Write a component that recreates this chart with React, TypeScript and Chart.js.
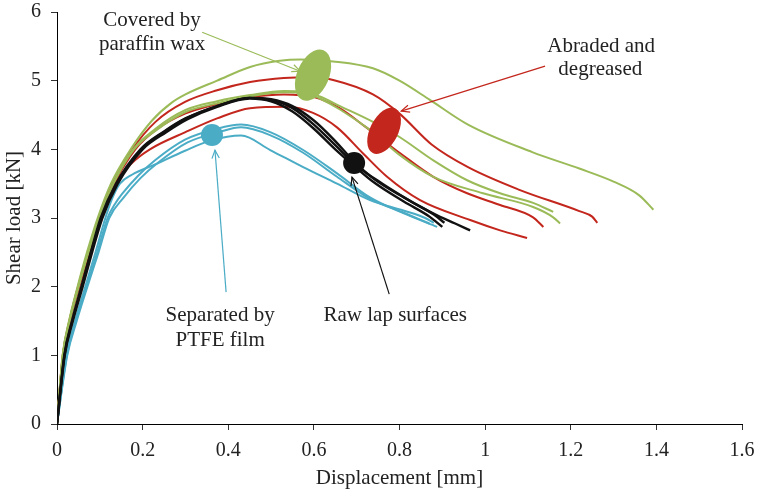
import React, { useEffect, useRef } from "react";
import { Chart, registerables } from "chart.js";

Chart.register(...registerables);

type Pt = [number, number];

// Raw lap surfaces (black)
const raw1: Pt[] = [[0,0],[0.017,1],[0.035,1.5],[0.057,2],[0.079,2.5],[0.102,3],[0.138,3.5],[0.195,4],[0.25,4.26],[0.3,4.45],[0.374,4.63],[0.45,4.75],[0.5,4.73],[0.55,4.63],[0.6,4.42],[0.65,4.12],[0.694,3.82],[0.74,3.57],[0.81,3.3],[0.89,3.03],[0.93,2.92],[0.965,2.82]];
const raw2: Pt[] = [[0,0],[0.018,1],[0.037,1.5],[0.06,2],[0.082,2.5],[0.106,3],[0.142,3.5],[0.2,4],[0.255,4.25],[0.305,4.44],[0.374,4.62],[0.45,4.74],[0.5,4.7],[0.55,4.55],[0.6,4.3],[0.65,4.0],[0.69,3.78],[0.74,3.52],[0.81,3.24],[0.87,3.02],[0.9,2.87]];
const raw3: Pt[] = [[0,0],[0.0175,1],[0.036,1.5],[0.058,2],[0.08,2.5],[0.104,3],[0.14,3.5],[0.197,4],[0.252,4.26],[0.302,4.45],[0.374,4.63],[0.45,4.75],[0.5,4.72],[0.55,4.6],[0.6,4.36],[0.65,4.06],[0.7,3.76],[0.76,3.5],[0.83,3.23],[0.88,3.05],[0.905,2.93]];

// Covered by paraffin wax (green)
const wax1: Pt[] = [[0,0],[0.013,1],[0.028,1.5],[0.048,2],[0.07,2.5],[0.095,3],[0.126,3.5],[0.172,4],[0.222,4.42],[0.268,4.68],[0.3,4.8],[0.374,5.0],[0.451,5.2],[0.52,5.29],[0.568,5.31],[0.645,5.28],[0.738,5.18],[0.8,5.0],[0.871,4.72],[0.96,4.36],[1.11,3.96],[1.22,3.72],[1.3,3.53],[1.36,3.33],[1.393,3.12]];
const wax2: Pt[] = [[0,0],[0.0135,1],[0.029,1.5],[0.05,2],[0.073,2.5],[0.099,3],[0.131,3.5],[0.178,4],[0.23,4.3],[0.299,4.57],[0.374,4.7],[0.451,4.79],[0.53,4.85],[0.58,4.84],[0.614,4.77],[0.661,4.63],[0.738,4.4],[0.8,4.18],[0.879,3.84],[0.958,3.55],[1.035,3.36],[1.112,3.22],[1.159,3.09]];
const wax3: Pt[] = [[0,0],[0.0138,1],[0.0294,1.5],[0.0504,2],[0.0735,2.5],[0.0998,3],[0.132,3.5],[0.18,4],[0.232,4.28],[0.299,4.54],[0.374,4.67],[0.451,4.77],[0.53,4.83],[0.58,4.82],[0.614,4.74],[0.661,4.58],[0.738,4.25],[0.8,3.92],[0.879,3.6],[0.995,3.36],[1.112,3.16],[1.159,3.01],[1.175,2.92]];

// Abraded and degreased (red)
const abr1: Pt[] = [[0,0],[0.0134,1],[0.0288,1.5],[0.049,2],[0.072,2.5],[0.098,3],[0.13,3.5],[0.176,4],[0.23,4.4],[0.299,4.69],[0.374,4.86],[0.451,4.98],[0.53,5.04],[0.6,5.05],[0.645,5.01],[0.738,4.8],[0.8,4.52],[0.875,4.07],[0.96,3.74],[1.08,3.41],[1.22,3.1],[1.25,3.02],[1.262,2.93]];
const abr2: Pt[] = [[0,0],[0.014,1],[0.0297,1.5],[0.051,2],[0.074,2.5],[0.101,3],[0.134,3.5],[0.183,4],[0.235,4.3],[0.299,4.52],[0.374,4.66],[0.451,4.76],[0.53,4.8],[0.6,4.76],[0.66,4.6],[0.72,4.33],[0.8,3.95],[0.879,3.6],[0.958,3.36],[1.035,3.19],[1.112,3.01],[1.136,2.87]];
const abr3: Pt[] = [[0,0],[0.0145,1],[0.03,1.5],[0.052,2],[0.076,2.5],[0.103,3],[0.136,3.5],[0.175,3.8],[0.217,4.0],[0.3,4.25],[0.374,4.45],[0.451,4.6],[0.54,4.62],[0.598,4.53],[0.654,4.32],[0.715,3.94],[0.771,3.6],[0.848,3.26],[0.965,2.97],[1.035,2.82],[1.098,2.71]];

// Separated by PTFE film (blue)
const ptfe1: Pt[] = [[0,0],[0.023,1],[0.044,1.5],[0.069,2],[0.094,2.5],[0.118,3],[0.135,3.2],[0.152,3.35],[0.19,3.62],[0.229,3.84],[0.299,4.14],[0.374,4.3],[0.43,4.36],[0.498,4.25],[0.575,3.99],[0.654,3.65],[0.731,3.3],[0.809,3.07],[0.888,2.87]];
const ptfe2: Pt[] = [[0,0],[0.024,1],[0.046,1.5],[0.071,2],[0.097,2.5],[0.122,3],[0.156,3.3],[0.195,3.58],[0.235,3.8],[0.305,4.1],[0.378,4.25],[0.43,4.32],[0.5,4.2],[0.575,3.95],[0.654,3.6],[0.731,3.28],[0.809,3.08],[0.87,2.92]];
const ptfe3: Pt[] = [[0,0],[0.022,1],[0.042,1.5],[0.066,2],[0.09,2.5],[0.113,3],[0.13,3.3],[0.147,3.5],[0.175,3.63],[0.229,3.78],[0.299,3.98],[0.36,4.13],[0.43,4.2],[0.498,3.99],[0.575,3.74],[0.654,3.5],[0.731,3.26],[0.809,3.11],[0.86,3.0],[0.88,2.93]];

const xTicks = [0, 0.2, 0.4, 0.6, 0.8, 1, 1.2, 1.4, 1.6];
const yTicks = [0, 1, 2, 3, 4, 5, 6];

const BLACK = "#111111";
const GREEN = "#9BBB59";
const RED = "#C3261C";
const BLUE = "#4BACC6";
const TEXT = "#222222";

// Annotation anchors (data coordinates)
const ellipseMarks = [
  { at: [0.598, 5.08] as Pt, color: GREEN, rx: 27, ry: 16, angle: -67 },
  { at: [0.764, 4.27] as Pt, color: RED, rx: 25, ry: 14, angle: -63 },
];
const dotMarks = [
  { at: [0.694, 3.8] as Pt, color: BLACK, r: 11 },
  { at: [0.362, 4.21] as Pt, color: BLUE, r: 11 },
];
const arrowMarks = [
  { from: [0.339, 5.706] as Pt, to: [0.568, 5.138] as Pt, color: GREEN },
  { from: [1.14, 5.211] as Pt, to: [0.804, 4.556] as Pt, color: RED },
  { from: [0.776, 1.892] as Pt, to: [0.689, 3.595] as Pt, color: BLACK },
  { from: [0.395, 1.921] as Pt, to: [0.369, 3.988] as Pt, color: BLUE },
];
const textMarks = [
  { text: "Covered by", at: [0.222, 5.88] as Pt },
  { text: "paraffin wax", at: [0.222, 5.52] as Pt },
  { text: "Abraded and", at: [1.271, 5.5] as Pt },
  { text: "degreased", at: [1.269, 5.17] as Pt },
  { text: "Separated by", at: [0.381, 1.587] as Pt },
  { text: "PTFE film", at: [0.381, 1.223] as Pt },
  { text: "Raw lap surfaces", at: [0.79, 1.587] as Pt },
];

const FONT = "Liberation Serif";

const annotationPlugin = {
  id: "annotations",
  afterDatasetsDraw(chart: any) {
    const ctx = chart.ctx as CanvasRenderingContext2D;
    const xs = chart.scales.x;
    const ys = chart.scales.y;
    const P = (p: Pt) => [xs.getPixelForValue(p[0]), ys.getPixelForValue(p[1])];
    ctx.save();
    for (const e of ellipseMarks) {
      const [cx, cy] = P(e.at);
      ctx.beginPath();
      ctx.ellipse(cx, cy, e.rx, e.ry, (e.angle * Math.PI) / 180, 0, Math.PI * 2);
      ctx.fillStyle = e.color;
      ctx.fill();
    }
    for (const d of dotMarks) {
      const [cx, cy] = P(d.at);
      ctx.beginPath();
      ctx.arc(cx, cy, d.r, 0, Math.PI * 2);
      ctx.fillStyle = d.color;
      ctx.fill();
    }
    for (const a of arrowMarks) {
      const [x1, y1] = P(a.from);
      const [x2, y2] = P(a.to);
      ctx.strokeStyle = a.color;
      ctx.lineWidth = 1.2;
      ctx.beginPath();
      ctx.moveTo(x1, y1);
      ctx.lineTo(x2, y2);
      ctx.stroke();
      const ang = Math.atan2(y2 - y1, x2 - x1);
      const L = 9;
      const spread = 0.42;
      ctx.beginPath();
      ctx.moveTo(x2 - L * Math.cos(ang - spread), y2 - L * Math.sin(ang - spread));
      ctx.lineTo(x2, y2);
      ctx.lineTo(x2 - L * Math.cos(ang + spread), y2 - L * Math.sin(ang + spread));
      ctx.stroke();
    }
    ctx.fillStyle = TEXT;
    ctx.font = `21px "${FONT}"`;
    ctx.textAlign = "center";
    ctx.textBaseline = "middle";
    for (const t of textMarks) {
      const [x, y] = P(t.at);
      ctx.fillText(t.text, x, y);
    }
    ctx.restore();
  },
};

function series(data: Pt[], color: string, width: number) {
  return {
    data: data.map(([x, y]) => ({ x, y })),
    borderColor: color,
    backgroundColor: color,
    borderWidth: width,
    pointRadius: 0,
    fill: false,
    cubicInterpolationMode: "monotone" as const,
  };
}

export default function App() {
  const ref = useRef<HTMLCanvasElement | null>(null);
  useEffect(() => {
    if (!ref.current) return;
    const chart = new Chart(ref.current, {
      type: "line",
      data: {
        datasets: [
          series(raw1, BLACK, 2.4),
          series(raw2, BLACK, 2.4),
          series(raw3, BLACK, 2.4),
          series(wax1, GREEN, 2),
          series(wax2, GREEN, 2),
          series(wax3, GREEN, 2),
          series(abr1, RED, 2),
          series(abr2, RED, 2),
          series(abr3, RED, 2),
          series(ptfe1, BLUE, 2),
          series(ptfe2, BLUE, 2),
          series(ptfe3, BLUE, 2),
        ] as any,
      },
      options: {
        responsive: false,
        animation: false,
        devicePixelRatio: 1,
        layout: { padding: { left: 0, right: 15, top: 12, bottom: 0 } },
        plugins: { legend: { display: false }, tooltip: { enabled: false } },
        scales: {
          x: {
            type: "linear",
            min: xTicks[0],
            max: xTicks[xTicks.length - 1],
            afterBuildTicks: (s: any) => {
              s.ticks = xTicks.map((v) => ({ value: v }));
            },
            ticks: {
              font: { family: FONT, size: 20 },
              color: TEXT,
              padding: 9,
              maxRotation: 0,
              autoSkip: false,
              callback: (v: any) => String(Math.round(Number(v) * 10) / 10),
            },
            grid: { drawOnChartArea: false, drawTicks: true, tickLength: 6, color: "#333", lineWidth: 1 },
            border: { display: true, color: "#000", width: 1 },
            title: {
              display: true,
              text: "Displacement [mm]",
              color: TEXT,
              font: { family: FONT, size: 21 },
              padding: { top: 0, bottom: 2 },
            },
            afterFit: (s: any) => {
              s.height = 69;
              s.paddingLeft = 0;
              s.paddingRight = 0;
            },
          },
          y: {
            type: "linear",
            min: yTicks[0],
            max: yTicks[yTicks.length - 1],
            afterBuildTicks: (s: any) => {
              s.ticks = yTicks.map((v) => ({ value: v }));
            },
            ticks: {
              font: { family: FONT, size: 20 },
              color: TEXT,
              padding: 10,
              autoSkip: false,
              callback: (v: any) => String(v),
            },
            grid: { drawOnChartArea: false, drawTicks: true, tickLength: 6, color: "#333", lineWidth: 1 },
            border: { display: true, color: "#000", width: 1 },
            title: {
              display: true,
              text: "Shear load [kN]",
              color: TEXT,
              font: { family: FONT, size: 21 },
              padding: { top: 2, bottom: 0 },
            },
            afterFit: (s: any) => {
              s.width = 57;
              s.paddingTop = 0;
              s.paddingBottom = 0;
            },
          },
        },
      },
      plugins: [annotationPlugin],
    });
    return () => chart.destroy();
  }, []);
  return (
    <div style={{ position: "absolute", left: 0, top: 0, width: 757, height: 493, background: "#fff" }}>
      <canvas ref={ref} width={757} height={493} style={{ display: "block", width: 757, height: 493 }} />
    </div>
  );
}
